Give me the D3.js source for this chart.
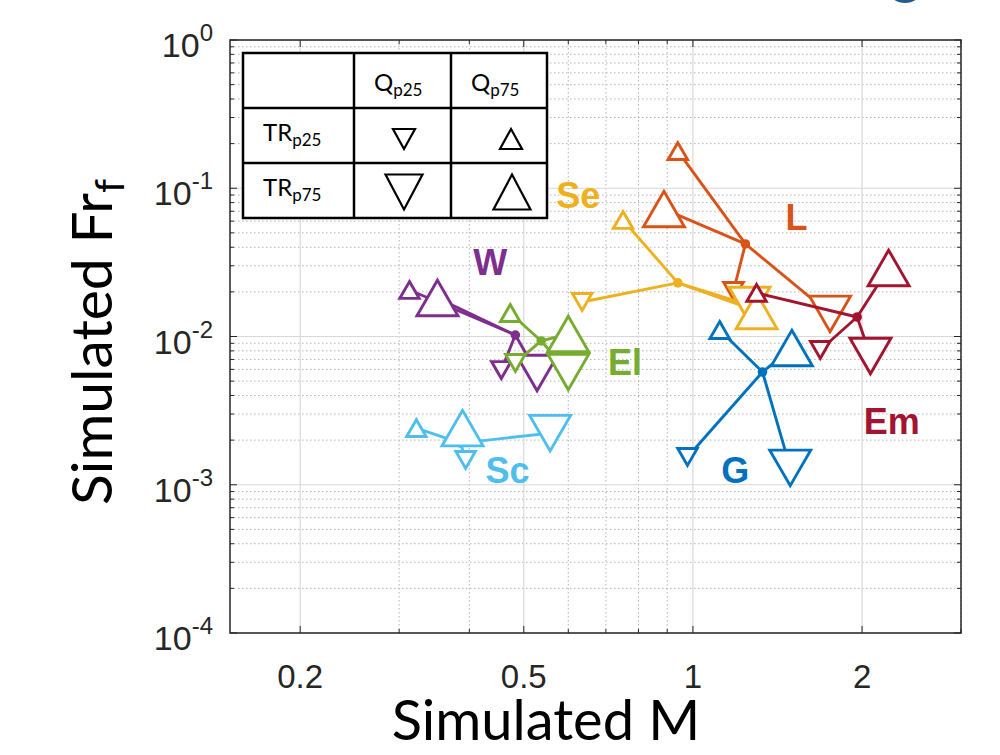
<!DOCTYPE html>
<html><head><meta charset="utf-8">
<script src="https://cdn.jsdelivr.net/npm/d3@7"></script>
<style>body{margin:0;background:#fff}</style></head>
<body><svg id="c" width="1000" height="755"></svg>
<script>
// ---------- data ----------
const groups = ["W", "El", "Sc", "L", "Se", "Em", "G"];
const colors = ["#7E2F8E", "#77AC30", "#4DBEEE", "#D95319", "#EDB120", "#A2142F", "#0072BD"];
// group centre (filled dot)
const centerM  = [0.483, 0.537, 0.386, 1.240, 0.940, 1.96, 1.33];
const centerFr = [0.01023, 0.00933, 0.00191, 0.0421, 0.0230, 0.01354, 0.00576];
// TRp25 & Qp25 (small, down)
const sdM  = [0.456, 0.483, 0.394, 1.181, 0.635, 1.685, 0.978];
const sdFr = [0.00594, 0.00663, 0.00147, 0.0203, 0.0171, 0.00811, 0.00154];
// TRp25 & Qp75 (small, up)
const suM  = [0.313, 0.473, 0.322, 0.940, 0.751, 1.298, 1.116];
const suFr = [0.0206, 0.0144, 0.00241, 0.178, 0.0611, 0.0197, 0.01106];
// TRp75 & Qp25 (large, down)
const ldM  = [0.528, 0.600, 0.557, 1.754, 1.261, 2.07, 1.49];
const ldFr = [0.00567, 0.00576, 0.00223, 0.0142, 0.0163, 0.00738, 0.0013];
// TRp75 & Qp75 (large, up)
const luM  = [0.351, 0.600, 0.389, 0.888, 1.298, 2.23, 1.50];
const luFr = [0.0182, 0.0104, 0.00241, 0.0724, 0.01486, 0.0290, 0.00836];
// group label anchor (data space)
const labelM  = [0.436, 0.757, 0.468, 1.528, 0.625, 2.26, 1.19];
const labelFr = [0.0318, 0.00663, 0.001257, 0.063, 0.0887, 0.00269, 0.001257];

const xMajor = [0.2, 0.5, 1, 2];
const xMinor = [0.3, 0.4, 0.6, 0.7, 0.8, 0.9, 3];
const yExp = [0, -1, -2, -3, -4];

// ---------- layout ----------
const L = 230, R = 961, T = 40, B = 633;
const svg = d3.select("#c");
const x = d3.scaleLog().domain([0.15, 3]).range([L, R]);
const y = d3.scaleLog().domain([1e-4, 1]).range([B, T]);

const yMajor = yExp.map(e => Math.pow(10, e));
const yMinor = [];
for (let e = -4; e < 0; e++) for (let k = 2; k <= 9; k++) yMinor.push(k * Math.pow(10, e));

// grid
const g = svg.append("g");
g.selectAll(".gxm").data(xMinor).join("line")
  .attr("x1", d => x(d)).attr("x2", d => x(d)).attr("y1", T).attr("y2", B)
  .attr("stroke", "#b4b4b4").attr("stroke-width", 1).attr("stroke-dasharray", "1.5,2.5");
g.selectAll(".gym").data(yMinor).join("line")
  .attr("y1", d => y(d)).attr("y2", d => y(d)).attr("x1", L).attr("x2", R)
  .attr("stroke", "#b4b4b4").attr("stroke-width", 1).attr("stroke-dasharray", "1.5,2.5");
g.selectAll(".gxM").data(xMajor).join("line")
  .attr("x1", d => x(d)).attr("x2", d => x(d)).attr("y1", T).attr("y2", B)
  .attr("stroke", "#d8d8d8").attr("stroke-width", 1.2);
g.selectAll(".gyM").data(yMajor).join("line")
  .attr("y1", d => y(d)).attr("y2", d => y(d)).attr("x1", L).attr("x2", R)
  .attr("stroke", "#d8d8d8").attr("stroke-width", 1.2);

// ticks (inward, all sides)
const tk = svg.append("g").attr("stroke", "#262626").attr("stroke-width", 1);
function xt(vals, len) {
  vals.forEach(v => {
    tk.append("line").attr("x1", x(v)).attr("x2", x(v)).attr("y1", B).attr("y2", B - len);
    tk.append("line").attr("x1", x(v)).attr("x2", x(v)).attr("y1", T).attr("y2", T + len);
  });
}
function yt(vals, len) {
  vals.forEach(v => {
    tk.append("line").attr("y1", y(v)).attr("y2", y(v)).attr("x1", L).attr("x2", L + len);
    tk.append("line").attr("y1", y(v)).attr("y2", y(v)).attr("x1", R).attr("x2", R - len);
  });
}
xt(xMajor, 7); xt(xMinor, 4); yt(yMajor, 7); yt(yMinor, 4);

svg.append("rect").attr("x", L).attr("y", T).attr("width", R - L).attr("height", B - T)
  .attr("fill", "none").attr("stroke", "#262626").attr("stroke-width", 1.5);

// tick labels
svg.append("g").selectAll("text").data(xMajor).join("text")
  .attr("x", d => x(d)).attr("y", 688).attr("text-anchor", "middle")
  .attr("font-family", "Liberation Sans, Arial, sans-serif").attr("font-size", 33).attr("fill", "#262626")
  .text(d => d3.format("")(d));
const yl = svg.append("g").selectAll("text").data(yExp).join("text")
  .attr("x", 213).attr("y", d => y(Math.pow(10, d)) + 17).attr("text-anchor", "end")
  .attr("font-family", "Liberation Sans, Arial, sans-serif").attr("font-size", 34).attr("fill", "#262626");
yl.append("tspan").text("10");
yl.append("tspan").attr("dy", -16).attr("font-size", 24).text(d => String(d).replace("\u2212", "-"));

// axis titles
svg.append("text").attr("x", 546).attr("y", 740).attr("text-anchor", "middle")
  .attr("font-family", "Lato, sans-serif").attr("font-size", 56).attr("fill", "#000").text("Simulated M");
const yt2 = svg.append("text").attr("transform", "translate(112,342) rotate(-90)").attr("text-anchor", "middle")
  .attr("font-family", "Lato, sans-serif").attr("font-size", 57).attr("fill", "#000");
yt2.append("tspan").text("Simulated Fr");
yt2.append("tspan").attr("dy", 12).attr("font-size", 40).text("f");

// ---------- markers ----------
function tri(w, up) {
  const h = w * 0.866;
  return up ? `M0,${-h / 2}L${w / 2},${h / 2}L${-w / 2},${h / 2}Z`
            : `M0,${h / 2}L${w / 2},${-h / 2}L${-w / 2},${-h / 2}Z`;
}
const SMALL = 19.5, LARGE = 41;
const plot = svg.append("g");
groups.forEach((name, i) => {
  const c = colors[i];
  const gg = plot.append("g");
  const cx = x(centerM[i]), cy = y(centerFr[i]);
  const pts = [
    [sdM[i], sdFr[i], SMALL, false],
    [suM[i], suFr[i], SMALL, true],
    [ldM[i], ldFr[i], LARGE, false],
    [luM[i], luFr[i], LARGE, true]
  ];
  pts.forEach(p => {
    gg.append("line").attr("x1", cx).attr("y1", cy).attr("x2", x(p[0])).attr("y2", y(p[1]))
      .attr("stroke", c).attr("stroke-width", 2.9);
  });
  gg.append("circle").attr("cx", cx).attr("cy", cy).attr("r", 4.8).attr("fill", c);
  pts.forEach(p => {
    gg.append("path").attr("d", tri(p[2], p[3]))
      .attr("transform", `translate(${x(p[0])},${y(p[1])})`)
      .attr("fill", "#fff").attr("stroke", c).attr("stroke-width", 2.9).attr("stroke-linejoin", "miter");
  });
  svg.append("text").attr("x", x(labelM[i])).attr("y", y(labelFr[i]))
    .attr("dominant-baseline", "central").attr("text-anchor", "middle")
    .attr("font-family", "Liberation Sans, Arial, sans-serif").attr("font-weight", "bold")
    .attr("font-size", 36).attr("fill", c).text(name);
});

// ---------- legend table ----------
const tb = svg.append("g");
const colX = [243, 354, 451, 547], rowY = [53, 108, 163, 218];
tb.append("rect").attr("x", colX[0]).attr("y", rowY[0]).attr("width", colX[3] - colX[0]).attr("height", rowY[3] - rowY[0])
  .attr("fill", "#fff").attr("stroke", "#000").attr("stroke-width", 2.5);
[colX[1], colX[2]].forEach(cx => tb.append("line").attr("x1", cx).attr("x2", cx).attr("y1", rowY[0]).attr("y2", rowY[3]).attr("stroke", "#000").attr("stroke-width", 2.5));
[rowY[1], rowY[2]].forEach(ry => tb.append("line").attr("y1", ry).attr("y2", ry).attr("x1", colX[0]).attr("x2", colX[3]).attr("stroke", "#000").attr("stroke-width", 2.5));
function sub(xp, yp, main, s) {
  const t = tb.append("text").attr("x", xp).attr("y", yp).attr("font-family", "Lato, sans-serif").attr("font-size", 24).attr("fill", "#000");
  t.append("tspan").text(main);
  t.append("tspan").attr("dy", 5).attr("font-size", 17).text(s);
}
sub(374, 91, "Q", "p25"); sub(471, 91, "Q", "p75");
sub(263, 141, "TR", "p25"); sub(263, 196, "TR", "p75");
function ltri(cx, cy, w, h, up) {
  const d = up ? `M0,${-h / 2}L${w / 2},${h / 2}L${-w / 2},${h / 2}Z` : `M0,${h / 2}L${w / 2},${-h / 2}L${-w / 2},${-h / 2}Z`;
  tb.append("path").attr("d", d).attr("transform", `translate(${cx},${cy})`).attr("fill", "none").attr("stroke", "#000").attr("stroke-width", 2.2);
}
ltri(404, 139, 22, 20, false); ltri(511, 139, 22, 20, true);
ltri(404, 192, 37, 35, false); ltri(512, 192, 37, 35, true);

// cropped logo fragment at top
svg.append("ellipse").attr("cx", 905).attr("cy", -9).attr("rx", 16).attr("ry", 12).attr("fill", "#245d8c");
</script></body></html>
